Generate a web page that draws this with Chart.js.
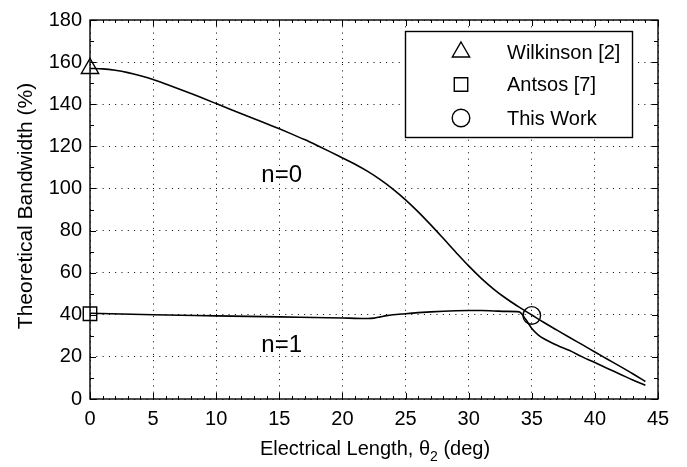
<!DOCTYPE html>
<html>
<head>
<meta charset="utf-8">
<script src="https://cdn.jsdelivr.net/npm/chart.js@4.4.1/dist/chart.umd.min.js"></script>
<style>
html,body{margin:0;padding:0;background:#fff;}
#wrap{width:687px;height:467px;}
</style>
</head>
<body>
<div id="wrap"><canvas id="c" width="687" height="467"></canvas></div>
<script>
// ---- data ----
const xN0 = [0,1,2,3,4,5,6,7,8,9,10,11,12,13,14,15,16,17,18,19,20,21,22,23,24,25,26,27,28,29,30,31,32,33,34,35,36,37,38,39,40,41,42,43,44];
const yN0 = [157,156.8,156.1,155,153.5,151.7,149.6,147.4,145.1,142.7,140.3,137.9,135.5,133.1,130.7,128.3,125.8,123.2,120.4,117.5,114.5,111.5,108.1,104.2,99.7,94.6,88.9,82.7,76.2,69.6,63.2,57.3,52.1,47.6,43.6,39.9,36.2,32.7,29.2,25.8,22.3,18.9,15.5,12,8.3];
const xN1 = [0,5,10,15,20,21,22,22.5,23,23.5,24,25,26,27,28,29,30,31,32,33,34,34.5,35,35.5,36,37,38,39,40,41,42,43,44];
const yN1 = [40.7,40,39.5,39,38.5,38.3,38.2,38.4,39,39.6,40,40.5,41,41.4,41.7,41.9,42,42,41.8,41.6,41.4,38,33.5,30.5,28.5,25.5,23,20,17.3,14.5,11.8,9,6.5];
const markerNames = ['Wilkinson [2]','Antsos [7]','This Work'];
const markerX = [0,0,35];
const markerY = [157,40.5,39.7];
const markerStyles = ['triangle','rect','circle'];
const markerRadius = [10,9.5,8.8];
const xTicks = [0,5,10,15,20,25,30,35,40,45];
const yTicks = [0,20,40,60,80,100,120,140,160,180];
const curveLabels = ['n=0','n=1'];
const curveLabelX = [16.8,16.8];
const curveLabelY = [103,22.5];

const FONT = "'Liberation Sans', Arial, Helvetica, sans-serif";

function pts(xs, ys){ return xs.map((x,i)=>({x:x,y:ys[i]})); }

const datasets = [
  {label:'n=0', data:pts(xN0,yN0), borderColor:'#000', borderWidth:1.6, pointRadius:0, fill:false, cubicInterpolationMode:'monotone'},
  {label:'n=1', data:pts(xN1,yN1), borderColor:'#000', borderWidth:1.6, pointRadius:0, fill:false, cubicInterpolationMode:'monotone'}
];
markerNames.forEach((n,i)=>{
  datasets.push({label:n, data:[{x:markerX[i],y:markerY[i]}], showLine:false, clip:false,
    pointStyle:markerStyles[i], pointRadius:markerRadius[i], pointBorderColor:'#000',
    pointBackgroundColor:'rgba(0,0,0,0)', pointBorderWidth:1.4, pointHoverRadius:markerRadius[i]});
});

const decor = {
  id:'decor',
  afterDraw(chart){
    const ctx = chart.ctx, a = chart.chartArea;
    const xs = chart.scales.x, ys = chart.scales.y;
    ctx.save();
    // frame
    ctx.strokeStyle='#000'; ctx.lineWidth=1.4; ctx.setLineDash([]);
    ctx.strokeRect(a.left, a.top, a.right-a.left, a.bottom-a.top);
    // ticks inward, all four sides
    ctx.lineWidth=1;
    ctx.beginPath();
    for(let v=0; v<=45; v+=1){
      const p = Math.round(xs.getPixelForValue(v))+0.5;
      const L = (v%5===0)?6:3;
      ctx.moveTo(p,a.bottom); ctx.lineTo(p,a.bottom-L);
      ctx.moveTo(p,a.top); ctx.lineTo(p,a.top+L);
    }
    for(let v=0; v<=180; v+=10){
      const p = Math.round(ys.getPixelForValue(v))+0.5;
      const L = (v%20===0)?6:4;
      ctx.moveTo(a.left,p); ctx.lineTo(a.left+L,p);
      ctx.moveTo(a.right,p); ctx.lineTo(a.right-L,p);
    }
    ctx.stroke();
    // curve labels
    ctx.fillStyle='#000';
    ctx.font = "24px "+FONT;
    ctx.textAlign='right'; ctx.textBaseline='alphabetic';
    curveLabels.forEach((t,i)=>{
      ctx.fillText(t, xs.getPixelForValue(curveLabelX[i]), ys.getPixelForValue(curveLabelY[i]));
    });
    // legend
    const lx=405, ly=31, lw=227, lh=106;
    ctx.fillStyle='#fff';
    ctx.fillRect(lx,ly,lw,lh);
    ctx.strokeStyle='#000'; ctx.lineWidth=1.4;
    ctx.strokeRect(lx+0.5,ly+0.5,lw,lh);
    const rows=[52,84.5,118];
    ctx.font = "20px "+FONT;
    ctx.textAlign='left'; ctx.textBaseline='middle';
    markerNames.forEach((n,i)=>{
      ctx.strokeStyle='#000'; ctx.fillStyle='rgba(0,0,0,0)'; ctx.lineWidth=1.4;
      Chart.helpers.drawPoint(ctx,{pointStyle:markerStyles[i], radius:markerRadius[i], rotation:0, borderWidth:1.4}, 461, rows[i]);
      ctx.fillStyle='#000';
      ctx.fillText(n, 507, rows[i]+1);
    });
    // axis titles
    ctx.fillStyle='#000';
    ctx.textBaseline='alphabetic';
    const t1='Electrical Length, \u03B8', t2='2', t3=' (deg)';
    ctx.font = "20px "+FONT; const w1=ctx.measureText(t1).width;
    ctx.font = "14px "+FONT; const w2=ctx.measureText(t2).width;
    ctx.font = "20px "+FONT; const w3=ctx.measureText(t3).width;
    const cx = (a.left+a.right)/2 + 1;
    let sx = cx - (w1+w2+w3)/2;
    const by = 455;
    ctx.textAlign='left';
    ctx.fillText(t1, sx, by);
    ctx.font = "14px "+FONT; ctx.fillText(t2, sx+w1, by+6);
    ctx.font = "20px "+FONT; ctx.fillText(t3, sx+w1+w2, by);
    // y title
    ctx.save();
    ctx.translate(32, 206);
    ctx.rotate(-Math.PI/2);
    ctx.font = "21px "+FONT;
    ctx.textAlign='center'; ctx.textBaseline='alphabetic';
    ctx.fillText('Theoretical Bandwidth (%)', 0, 0);
    ctx.restore();
    ctx.restore();
  }
};

new Chart(document.getElementById('c'), {
  type:'line',
  data:{datasets:datasets},
  plugins:[decor],
  options:{
    responsive:false, animation:false, devicePixelRatio:1,
    layout:{padding:{left:0, top:10, right:29, bottom:0}},
    plugins:{legend:{display:false}, tooltip:{enabled:false}},
    elements:{line:{tension:0}},
    scales:{
      x:{type:'linear', min:0, max:45,
        afterBuildTicks(s){ s.ticks = xTicks.map(v=>({value:v})); },
        afterFit(s){ s.height = 68; },
        grid:{display:true, drawTicks:false, color:'#000', lineWidth:1},
        border:{display:false, dash:[1,5.3]},
        ticks:{color:'#000', font:{family:FONT, size:20}, padding:8, maxRotation:0, autoSkip:false}
      },
      y:{type:'linear', min:0, max:180,
        afterBuildTicks(s){ s.ticks = yTicks.map(v=>({value:v})); },
        afterFit(s){ s.width = 90; },
        grid:{display:true, drawTicks:false, color:'#000', lineWidth:1},
        border:{display:false, dash:[1,5.3]},
        ticks:{color:'#000', font:{family:FONT, size:20}, padding:8, autoSkip:false}
      }
    }
  }
});
</script>
</body>
</html>
